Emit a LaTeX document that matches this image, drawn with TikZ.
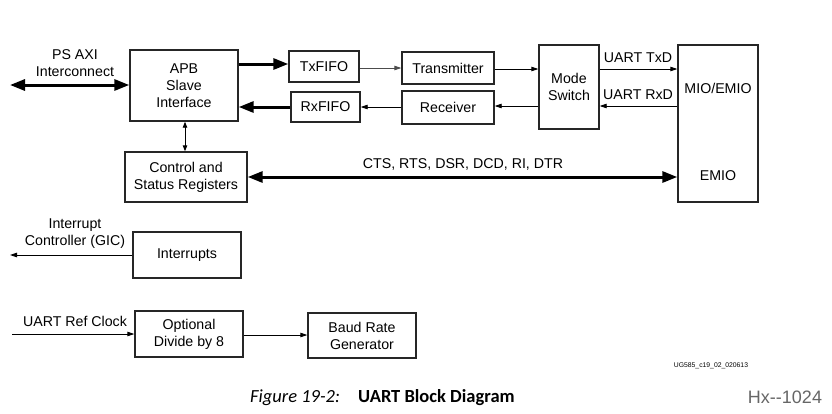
\documentclass[tikz,border=0pt]{standalone}
\usepackage{fontspec}
\setmainfont{Liberation Sans}
\newfontfamily\capfont{Carlito}
\usetikzlibrary{arrows.meta}
\begin{document}
\begin{tikzpicture}[x=1pt,y=-1pt,
  blk/.style={draw=black!85,line width=1.4pt,inner sep=0pt,align=center,font=\fontsize{14.2}{17}\selectfont},
  lbl/.style={inner sep=0pt,align=center,font=\fontsize{14.2}{17}\selectfont},
  thin arrow/.style={line width=0.9pt,-{Triangle[length=7pt,width=4.5pt]}},
  thin both/.style={line width=0.9pt,{Triangle[length=6pt,width=4.5pt]}-{Triangle[length=6pt,width=4.5pt]}},
  bus/.style={line width=3pt,-{Triangle[length=15pt,width=11pt]}},
  bus both/.style={line width=3pt,{Triangle[length=15pt,width=11pt]}-{Triangle[length=15pt,width=11pt]}}]
\useasboundingbox[fill=white] (0,0) rectangle (832,413);

% blocks
\node[blk,minimum width=108pt,minimum height=71pt] (apb) at (184,85.5) {APB\\Slave\\Interface};
\node[blk,minimum width=70pt,minimum height=31pt] (tx) at (324,66.5) {TxFIFO};
\node[blk,minimum width=69pt,minimum height=30pt] (rx) at (325.5,107) {RxFIFO};
\node[blk,minimum width=92pt,minimum height=32pt] (trans) at (448,68) {Transmitter};
\node[blk,minimum width=92pt,minimum height=33pt] (recv) at (448,107.5) {Receiver};
\node[blk,minimum width=60pt,minimum height=84pt] (mode) at (569,87) {Mode\\Switch};
\node[blk,minimum width=80pt,minimum height=157pt] (mio) at (718,123.5) {};
\node[lbl] (miot) at (718,88) {MIO/EMIO};
\node[lbl] (emiot) at (718,176) {EMIO};
\node[blk,minimum width=122pt,minimum height=50pt] (csr) at (186,177) {Control and\\Status Registers};
\node[blk,minimum width=108pt,minimum height=46pt] (intr) at (187,255) {Interrupts};
\node[blk,minimum width=108pt,minimum height=46pt] (div) at (189,334) {Optional\\Divide by 8};
\node[blk,minimum width=108pt,minimum height=45pt] (baud) at (362,335.5) {Baud Rate\\Generator};

% free ends
\coordinate (axi) at (10,85);
\coordinate (gic) at (10,255);
\coordinate (clk) at (12,334);

% labels
\node[lbl] (axit) at (75,63) {PS AXI\\Interconnect};
\node[lbl] (txdt) at (638,58) {UART TxD};
\node[lbl] (rxdt) at (638,95) {UART RxD};
\node[lbl] (ctst) at (463,164) {CTS, RTS, DSR, DCD, RI, DTR};
\node[lbl] (gict) at (75,234) {Interrupt\\Controller (GIC)};
\node[lbl] (clkt) at (75,321) {UART Ref Clock};
\node[inner sep=0pt,font=\fontsize{6.8}{8}\selectfont] (ug) at (711,366) {UG585\_c19\_02\_020613};
\node[inner sep=0pt,anchor=west,font=\capfont\fontsize{18.5}{20}\selectfont] (capa) at (250,398) {\textit{Figure 19-2:}};
\node[inner sep=0pt,anchor=west,font=\capfont\fontsize{18.5}{20}\selectfont] (capb) at (358,398) {\textbf{UART Block Diagram}};
\node[inner sep=0pt,text=black!60,font=\fontsize{18}{20}\selectfont] (hx) at (785,397) {Hx-{}-1024};

% connectors
\draw[bus both] (axi) -- (apb.west |- axi);
\draw[bus] (apb.east |- 0,64) -- (tx.west |- 0,64);
\draw[bus] (rx.west |- 0,107) -- (apb.east |- 0,107);
\draw[thin arrow,draw=black!70] (tx.east |- 0,68) -- (trans.west |- 0,68);
\draw[thin arrow] (recv.west |- 0,107) -- (rx.east |- 0,107);
\draw[thin arrow] (trans.east |- 0,69) -- (mode.west |- 0,69);
\draw[thin arrow] (mode.west |- 0,106) -- (recv.east |- 0,106);
\draw[thin arrow] (mode.east |- 0,69) -- (mio.west |- 0,69);
\draw[thin arrow] (mio.west |- 0,106) -- (mode.east |- 0,106);
\draw[thin both] (apb.south -| 185,0) -- (csr.north -| 185,0);
\draw[bus both] (csr.east |- 0,177) -- (mio.west |- 0,177);
\draw[thin arrow] (intr.west) -- (gic);
\draw[thin arrow] (clk) -- (div.west |- clk);
\draw[thin arrow] (div.east |- 0,335) -- (baud.west |- 0,335);
\end{tikzpicture}
\end{document}
